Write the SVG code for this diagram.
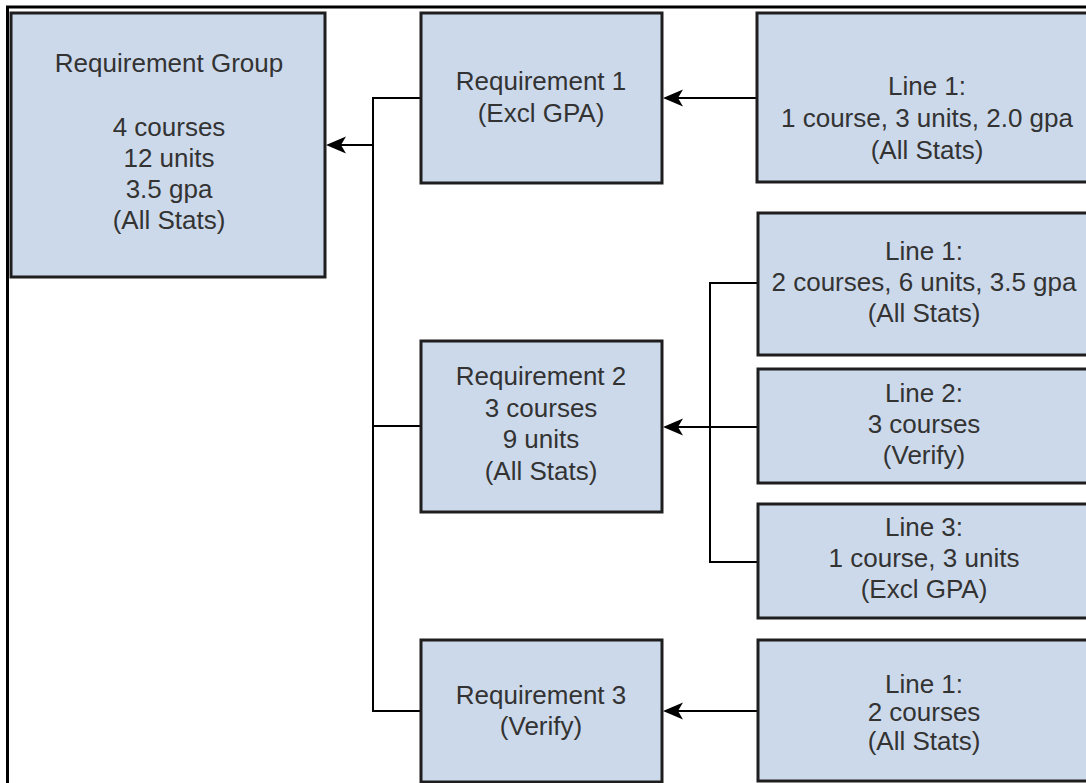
<svg xmlns="http://www.w3.org/2000/svg" width="1086" height="783" viewBox="0 0 1086 783">
  <style>
    .box { fill: #ccd9ea; stroke: #1e1e1e; stroke-width: 3; }
    .t { font-family: "Liberation Sans", Arial, sans-serif; font-size: 26px; fill: #333333; text-anchor: middle; }
    .c { fill: none; stroke: #000000; stroke-width: 2; }
    .frame { stroke: #000000; stroke-width: 3; fill: none; }
  </style>
  <defs>
    <marker id="arr" viewBox="0 0 20 18" refX="12" refY="9" markerWidth="20" markerHeight="18" markerUnits="userSpaceOnUse" orient="auto">
      <path d="M20,9 L0,0.5 L5,9 L0,17.5 Z" fill="#000000"/>
    </marker>
  </defs>
  <rect width="1086" height="783" fill="#ffffff"/>
  <g id="frame">
    <line class="frame" x1="6" y1="7" x2="1086" y2="7"/>
    <line class="frame" x1="7.5" y1="6" x2="7.5" y2="783"/>
  </g>

  <g id="connectors">
    <path class="c" d="M757,98 L671,98" marker-end="url(#arr)"/>
    <path class="c" d="M421,98 L373,98 L373,711 L421,711"/>
    <path class="c" d="M421,426 L373,426"/>
    <path class="c" d="M373,145 L334,145" marker-end="url(#arr)"/>
    <path class="c" d="M758,283 L710,283 L710,562 L758,562"/>
    <path class="c" d="M758,427 L671,427" stroke-width="3" marker-end="url(#arr)"/>
    <path class="c" d="M758,711 L671,711" marker-end="url(#arr)"/>
  </g>

  <g id="req-group">
    <rect class="box" x="11" y="13" width="314" height="264"/>
    <text class="t" x="169" y="72">Requirement Group</text>
    <text class="t" x="169" y="136">4 courses</text>
    <text class="t" x="169" y="167">12 units</text>
    <text class="t" x="169" y="198">3.5 gpa</text>
    <text class="t" x="169" y="229">(All Stats)</text>
  </g>

  <g id="req1">
    <rect class="box" x="421" y="13" width="241" height="170"/>
    <text class="t" x="541" y="90">Requirement 1</text>
    <text class="t" x="541" y="122">(Excl GPA)</text>
  </g>

  <g id="req2">
    <rect class="box" x="421" y="341" width="241" height="171"/>
    <text class="t" x="541" y="385">Requirement 2</text>
    <text class="t" x="541" y="417">3 courses</text>
    <text class="t" x="541" y="448">9 units</text>
    <text class="t" x="541" y="480">(All Stats)</text>
  </g>

  <g id="req3">
    <rect class="box" x="421" y="640" width="241" height="142"/>
    <text class="t" x="541" y="704">Requirement 3</text>
    <text class="t" x="541" y="735">(Verify)</text>
  </g>

  <g id="req1-line1">
    <rect class="box" x="757" y="13" width="345" height="169"/>
    <text class="t" x="927" y="95">Line 1:</text>
    <text class="t" x="927" y="127">1 course, 3 units, 2.0 gpa</text>
    <text class="t" x="927" y="159">(All Stats)</text>
  </g>

  <g id="req2-line1">
    <rect class="box" x="758" y="213" width="345" height="142"/>
    <text class="t" x="924" y="260">Line 1:</text>
    <text class="t" x="924" y="291">2 courses, 6 units, 3.5 gpa</text>
    <text class="t" x="924" y="322">(All Stats)</text>
  </g>

  <g id="req2-line2">
    <rect class="box" x="758" y="369" width="345" height="114"/>
    <text class="t" x="924" y="402">Line 2:</text>
    <text class="t" x="924" y="433">3 courses</text>
    <text class="t" x="924" y="464">(Verify)</text>
  </g>

  <g id="req2-line3">
    <rect class="box" x="758" y="504" width="345" height="114"/>
    <text class="t" x="924" y="536">Line 3:</text>
    <text class="t" x="924" y="567">1 course, 3 units</text>
    <text class="t" x="924" y="598">(Excl GPA)</text>
  </g>

  <g id="req3-line1">
    <rect class="box" x="758" y="640" width="345" height="141"/>
    <text class="t" x="924" y="693">Line 1:</text>
    <text class="t" x="924" y="721">2 courses</text>
    <text class="t" x="924" y="750">(All Stats)</text>
  </g>
</svg>
